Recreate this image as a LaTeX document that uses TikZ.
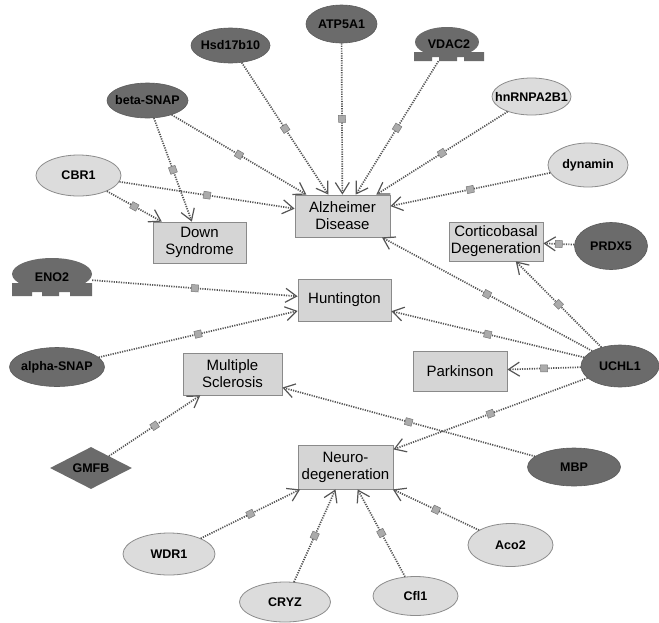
\documentclass[tikz,border=0pt]{standalone}
\usepackage{fontspec}
\setmainfont{Liberation Sans}
\usetikzlibrary{arrows.meta,shapes.geometric}
\definecolor{darkfill}{HTML}{6B6B6B}
\definecolor{lightfill}{HTML}{DCDCDC}
\definecolor{lightborder}{HTML}{8C8C8C}
\definecolor{boxfill}{HTML}{D5D5D5}
\definecolor{boxborder}{HTML}{8A8A8A}
\definecolor{edgecol}{HTML}{555555}
\definecolor{sqfill}{HTML}{ABABAB}
\newcommand\genelabel[1]{\makebox[0pt]{#1}}
\begin{document}
\begin{tikzpicture}[x=1pt,y=-1pt,
 disease/.style={rectangle, fill=boxfill, draw=boxborder, line width=0.8pt, inner sep=0pt, align=center, font=\fontsize{15}{17}\selectfont},
 gene/.style={ellipse, inner sep=0pt, font=\bfseries\fontsize{12.5}{14}\selectfont},
 darkgene/.style={gene, fill=darkfill, draw=darkfill!85!black, line width=0.6pt},
 lightgene/.style={gene, fill=lightfill, draw=lightborder, line width=0.8pt},
 rel/.style={draw=edgecol, line width=1.7pt, dash pattern=on 1.2pt off 1.2pt, -{Straight Barb[length=11pt,width=14pt,line width=1.2pt]}},
 midsq/.style={rectangle, sloped, solid, minimum size=7pt, inner sep=0pt, fill=sqfill, draw=sqfill!70!black, line width=0.5pt}
]
\useasboundingbox (0,0) rectangle (659,622);

% disease boxes
\node[disease, minimum width=95pt, minimum height=42pt] (alz) at (342.5,216) {Alzheimer\\Disease};
\node[disease, minimum width=93pt, minimum height=41pt] (down) at (199.5,242.5) {Down\\Syndrome};
\node[disease, minimum width=94pt, minimum height=39pt] (cbd) at (496,241.5) {Corticobasal\\Degeneration};
\node[disease, minimum width=93pt, minimum height=42pt] (hunt) at (344.5,300) {Huntington};
\node[disease, minimum width=99pt, minimum height=42pt] (ms) at (232.5,374) {Multiple\\Sclerosis};
\node[disease, minimum width=94pt, minimum height=40pt] (park) at (460,371) {Parkinson};
\node[disease, minimum width=95pt, minimum height=44pt] (nd) at (345.5,467) {Neuro-\\degeneration};

% genes
\node[darkgene, minimum width=79pt, minimum height=35pt] (hsd) at (230.5,45.5) {\genelabel{Hsd17b10}};
\node[darkgene, minimum width=71pt, minimum height=38pt] (atp) at (341.5,24) {\genelabel{ATP5A1}};
\node[darkgene, minimum width=81pt, minimum height=35pt] (bsnap) at (147.5,100.5) {\genelabel{beta-SNAP}};
\node[lightgene, minimum width=85pt, minimum height=41pt] (cbr) at (78.5,175.5) {\genelabel{CBR1}};
\node[lightgene, minimum width=79pt, minimum height=37pt] (hnr) at (531.5,96.5) {\genelabel{hnRNPA2B1}};
\node[lightgene, minimum width=80pt, minimum height=44pt] (dyn) at (588,165) {\genelabel{dynamin}};
\node[darkgene, minimum width=73pt, minimum height=47pt] (prdx) at (611,246) {\genelabel{PRDX5}};
\node[darkgene, minimum width=78pt, minimum height=42pt] (uchl) at (620,366) {\genelabel{UCHL1}};
\node[darkgene, minimum width=95pt, minimum height=39pt] (asnap) at (57,367) {\genelabel{alpha-SNAP}};
\node[diamond, fill=darkfill, inner sep=0pt, minimum width=82pt, minimum height=42pt, font=\bfseries\fontsize{12.5}{14}\selectfont] (gmfb) at (91,468) {\genelabel{GMFB}};
\node[darkgene, minimum width=93pt, minimum height=38pt] (mbp) at (574,467) {\genelabel{MBP}};
\node[lightgene, minimum width=92pt, minimum height=42pt] (wdr) at (169,554) {\genelabel{WDR1}};
\node[lightgene, minimum width=91pt, minimum height=40pt] (cryz) at (285,602) {\genelabel{CRYZ}};
\node[lightgene, minimum width=85pt, minimum height=39pt] (cfl) at (415.5,596) {\genelabel{Cfl1}};
\node[lightgene, minimum width=85pt, minimum height=43pt] (aco) at (510.5,545) {\genelabel{Aco2}};

% membrane-type shapes
\fill[darkfill] (52,274) ellipse [x radius=40, y radius=16];
\fill[darkfill] (12,283) -- (92,283) -- (92,296) -- (70,296) -- (70,292) -- (59,292) -- (59,296) -- (42,296) -- (42,292) -- (32,292) -- (32,296) -- (12,296) -- cycle;
\node[inner sep=0pt, minimum width=80pt, minimum height=38pt, font=\bfseries\fontsize{12.5}{14}\selectfont] (eno) at (52,277) {ENO2};

\fill[darkfill] (447,42) ellipse [x radius=32, y radius=15];
\fill[darkfill] (414,52) -- (484,52) -- (484,61) -- (464,61) -- (464,57) -- (457,57) -- (457,61) -- (439,61) -- (439,57) -- (432,57) -- (432,61) -- (414,61) -- cycle;
\node[inner sep=0pt, minimum width=70pt, minimum height=34pt, font=\bfseries\fontsize{12.5}{14}\selectfont] (vdac) at (449,44) {\raisebox{-1pt}{VDAC2}};

% relations
\draw[rel] (hsd) -- node[midsq]{} (alz);
\draw[rel] (atp) -- node[midsq]{} (alz);
\draw[rel] (vdac) -- node[midsq]{} (alz);
\draw[rel] (hnr) -- node[midsq]{} (alz);
\draw[rel] (dyn) -- node[midsq]{} (alz);
\draw[rel] (bsnap) -- node[midsq]{} (alz);
\draw[rel] (bsnap) -- node[midsq]{} (down);
\draw[rel] (cbr) -- node[midsq]{} (alz);
\draw[rel] (cbr) -- node[midsq]{} (down);
\draw[rel] (uchl) -- node[midsq]{} (alz);
\draw[rel] (uchl) -- node[midsq]{} (cbd);
\draw[rel] (prdx) -- node[midsq]{} (cbd);
\draw[rel] (uchl) -- node[midsq]{} (hunt);
\draw[rel] (uchl) -- node[midsq]{} (park);
\draw[rel] (uchl) -- node[midsq]{} (nd);
\draw[rel] (eno) -- node[midsq]{} (hunt);
\draw[rel] (asnap) -- node[midsq]{} (hunt);
\draw[rel] (gmfb) -- node[midsq]{} (ms);
\draw[rel] (mbp) -- node[midsq]{} (ms);
\draw[rel] (wdr) -- node[midsq]{} (nd);
\draw[rel] (cryz) -- node[midsq]{} (nd);
\draw[rel] (cfl) -- node[midsq]{} (nd);
\draw[rel] (aco) -- node[midsq]{} (nd);
\end{tikzpicture}
\end{document}
